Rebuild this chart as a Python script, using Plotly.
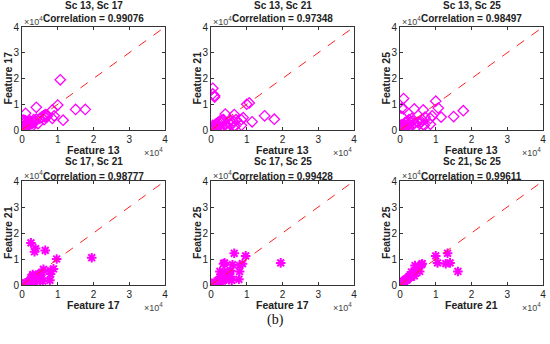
import plotly.graph_objects as go

# Feature values (raw units; axes shown in x10^4)
F13 = [1.07, 1.0, 0.05, 0.05, 0.1, 0.1, 1.77, 1.5, 1.15, 0.4, 0.85, 0.9, 0.65, 0.85, 0.65,
       0.02, 0.05, 0.08, 0.1, 0.12, 0.15, 0.18, 0.2, 0.22, 0.25, 0.28, 0.3, 0.33, 0.35, 0.4,
       0.45, 0.5, 0.55, 0.6, 0.62, 0.68, 0.7, 0.05, 0.15, 0.25]
F17 = [1.95, 0.97, 0.25, 0.38, 0.35, 0.65, 0.8, 0.8, 0.38, 0.88, 0.78, 0.55, 0.6, 0.45, 0.5,
       0.05, 0.1, 0.2, 0.15, 0.25, 0.3, 0.2, 0.28, 0.35, 0.3, 0.25, 0.32, 0.4, 0.3, 0.42,
       0.25, 0.45, 0.5, 0.55, 0.4, 0.58, 0.52, 0.3, 0.12, 0.1]
F21 = [1.05, 1.0, 1.62, 1.4, 1.28, 1.33, 0.42, 0.55, 0.32, 0.62, 0.18, 0.48, 0.6, 0.4, 0.15,
       0.02, 0.08, 0.12, 0.05, 0.2, 0.25, 0.1, 0.3, 0.15, 0.35, 0.28, 0.1, 0.38, 0.4, 0.2,
       0.12, 0.3, 0.2, 0.25, 0.35, 0.15, 0.4, 0.18, 0.05, 0.08]
F25 = [0.85, 1.12, 0.52, 0.85, 0.82, 1.22, 0.75, 0.52, 0.5, 0.82, 0.22, 0.55, 0.78, 0.45, 0.2,
       0.03, 0.1, 0.15, 0.08, 0.2, 0.3, 0.12, 0.32, 0.2, 0.4, 0.3, 0.15, 0.45, 0.35, 0.25,
       0.1, 0.3, 0.25, 0.32, 0.4, 0.18, 0.5, 0.2, 0.06, 0.1]
F13 = [v * 1e4 for v in F13]
F17 = [v * 1e4 for v in F17]
F21 = [v * 1e4 for v in F21]
F25 = [v * 1e4 for v in F25]
feats = {"13": F13, "17": F17, "21": F21, "25": F25}

pairs = [("13", "17"), ("13", "21"), ("13", "25"), ("17", "21"), ("17", "25"), ("21", "25")]
corrs = ["0.99076", "0.97348", "0.98497", "0.98777", "0.99428", "0.99611"]
tick_vals = [0, 1e4, 2e4, 3e4, 4e4]
tick_text = ["0", "1", "2", "3", "4"]

W, H = 550, 344
xpx = [(22, 165), (211, 354), (400, 543)]
ypx = [(27, 130), (181, 285)]
ylab_x = [8, 197, 386]

fig = go.Figure()
font_b = "Liberation Sans"
anns = []
for i, (a, b) in enumerate(pairs):
    r, c = divmod(i, 3)
    n = i + 1
    xa = "x" if n == 1 else f"x{n}"
    ya = "y" if n == 1 else f"y{n}"
    if r == 0:
        marker = dict(symbol="diamond-open", size=8, color="#FF00FF", line=dict(width=1.3, color="#FF00FF"))
    else:
        marker = dict(symbol="asterisk-open", size=8, color="#FF00FF", line=dict(width=2, color="#FF00FF"))
    fig.add_trace(go.Scatter(x=feats[a], y=feats[b], mode="markers", marker=marker,
                             xaxis=xa, yaxis=ya, showlegend=False, cliponaxis=True, hoverinfo="skip"))
    fig.add_trace(go.Scatter(x=[0, 4e4], y=[0, 4e4], mode="lines",
                             line=dict(color="#FF2020", width=1, dash="dash"),
                             xaxis=xa, yaxis=ya, showlegend=False, hoverinfo="skip"))
    x0, x1 = xpx[c]
    y0, y1 = ypx[r]
    axcommon = dict(range=[0, 4e4], tickvals=tick_vals, ticktext=tick_text, ticks="inside",
                    ticklen=3, tickcolor="#333", showline=True, linecolor="#333", linewidth=1,
                    mirror="ticks", showgrid=False, zeroline=False, automargin=False,
                    tickfont=dict(family=font_b, size=10, color="#222"))
    fig.layout[("xaxis" if n == 1 else f"xaxis{n}")] = dict(domain=[x0 / W, x1 / W], anchor=ya, **axcommon)
    fig.layout[("yaxis" if n == 1 else f"yaxis{n}")] = dict(domain=[1 - y1 / H, 1 - y0 / H], anchor=xa, **axcommon)
    cx = (x0 + x1) / 2
    ttl_y = 5 if r == 0 else 162
    anns.append(dict(x=cx / W, y=1 - ttl_y / H, text=f"<b>Sc {a}, Sc {b}</b>", font=dict(family=font_b, size=10, color="#222")))
    anns.append(dict(x=cx / W, y=1 - (ttl_y + 14) / H, text=f"<b>Correlation = {corrs[i]}</b>", font=dict(family=font_b, size=10, color="#222")))
    anns.append(dict(x=cx / W, y=1 - (y1 + 20) / H, text=f"<b>Feature {a}</b>", font=dict(family=font_b, size=10.5, color="#222")))
    anns.append(dict(x=ylab_x[c] / W, y=1 - ((y0 + y1) / 2) / H, text=f"<b>Feature {b}</b>", textangle=-90,
                     font=dict(family=font_b, size=10.5, color="#222")))
    anns.append(dict(x=x0 / W, y=1 - (y0 - 6) / H, text="×10<sup>4</sup>", xanchor="left",
                     font=dict(family=font_b, size=9, color="#444")))
    anns.append(dict(x=x1 / W, y=1 - (y1 + 22) / H, text="×10<sup>4</sup>", xanchor="right",
                     font=dict(family=font_b, size=9, color="#444")))

anns.append(dict(x=275 / W, y=1 - 320 / H, text="(b)", font=dict(family="Liberation Serif", size=14, color="#111")))
for an in anns:
    an.setdefault("xanchor", "center")
    an.update(xref="paper", yref="paper", yanchor="middle", showarrow=False)

fig.update_layout(width=W, height=H, margin=dict(l=0, r=0, t=0, b=0),
                  paper_bgcolor="white", plot_bgcolor="white", annotations=anns)
fig.write_html("out.html", config={"displayModeBar": False},
               post_script="document.body.style.margin='0';document.body.style.overflow='hidden';")
